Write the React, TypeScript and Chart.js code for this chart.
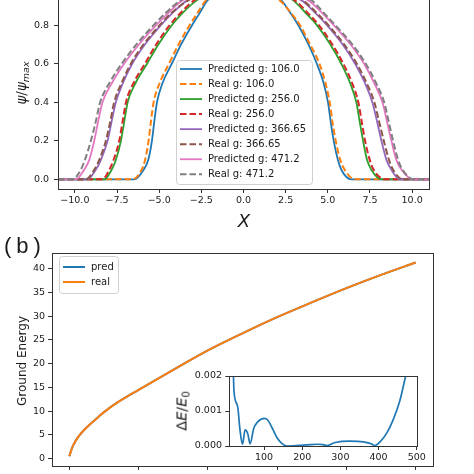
import React, { useEffect, useRef } from 'react';
import { Chart, registerables } from 'chart.js';

Chart.register(...registerables);

// ---------- Panel (a): wave-function profiles ----------
const LEVELS = [0, 0.05, 0.1, 0.2, 0.3, 0.4, 0.5, 0.6, 0.7, 0.8, 0.86, 0.93, 0.97];
const PEAK = { x: 0, y: 1 };
const X_EDGES = [-11, 11];

const PRED_106_L = [-6.48, -5.92, -5.65, -5.43, -5.29, -5.13, -4.8, -4.25, -3.7, -3.05, -2.62, -2.12, -1.35];
const PRED_106_R = [6.4, 5.8, 5.6, 5.35, 5.17, 5.01, 4.75, 4.35, 3.85, 3.25, 2.8, 2.24, 1.35];
const REAL_106_L = [-6.58, -6.04, -5.84, -5.63, -5.49, -5.33, -4.97, -4.42, -3.85, -3.2, -2.75, -2.22, -1.4];
const REAL_106_R = [6.6, 6.0, 5.74, 5.47, 5.27, 5.11, 4.86, 4.5, 3.95, 3.35, 2.85, 2.14, 1.4];
const PRED_256_L = [-8.26, -7.82, -7.57, -7.27, -7.07, -6.87, -6.4, -5.72, -5.05, -4.25, -3.65, -2.75, -1.8];
const PRED_256_R = [8.18, 7.58, 7.33, 7.09, 6.89, 6.69, 6.32, 5.8, 5.15, 4.35, 3.72, 2.93, 1.8];
const REAL_256_L = [-8.36, -7.96, -7.71, -7.37, -7.17, -6.97, -6.52, -5.85, -5.18, -4.38, -3.78, -2.91, -1.85];
const REAL_256_R = [8.38, 7.72, 7.49, 7.21, 7.01, 6.81, 6.44, 5.92, 5.27, 4.47, 3.85, 3.03, 1.85];
const PRED_366_L = [-9.25, -8.76, -8.46, -8.06, -7.82, -7.57, -7.15, -6.6, -5.85, -4.9, -4.25, -3.31, -2.05];
const PRED_366_R = [9.27, 8.77, 8.48, 8.18, 7.92, 7.64, 7.2, 6.62, 5.88, 4.95, 4.3, 3.43, 2.05];
const REAL_366_L = [-9.35, -8.85, -8.56, -8.16, -7.9, -7.67, -7.23, -6.68, -5.93, -4.97, -4.32, -3.25, -2.1];
const REAL_366_R = [9.47, 8.87, 8.63, 8.32, 8.04, 7.76, 7.3, 6.72, 5.97, 5.03, 4.38, 3.5, 2.1];
const PRED_471_L = [-9.94, -9.45, -9.15, -8.85, -8.62, -8.36, -7.8, -7.08, -6.2, -5.18, -4.5, -3.61, -2.2];
const PRED_471_R = [10.06, 9.37, 9.07, 8.77, 8.51, 8.24, 7.75, 7.15, 6.35, 5.35, 4.7, 3.82, 2.2];
const REAL_471_L = [-10.14, -9.65, -9.41, -9.05, -8.76, -8.5, -7.95, -7.22, -6.35, -5.33, -4.65, -3.71, -2.25];
const REAL_471_R = [10.1, 9.43, 9.17, 8.87, 8.61, 8.34, 7.86, 7.25, 6.45, 5.45, 4.8, 4.02, 2.25];

const SERIES_LABELS = [
  'Predicted g: 106.0', 'Real g: 106.0',
  'Predicted g: 256.0', 'Real g: 256.0',
  'Predicted g: 366.65', 'Real g: 366.65',
  'Predicted g: 471.2', 'Real g: 471.2',
];
const SERIES_LEFT = [PRED_106_L, REAL_106_L, PRED_256_L, REAL_256_L, PRED_366_L, REAL_366_L, PRED_471_L, REAL_471_L];
const SERIES_RIGHT = [PRED_106_R, REAL_106_R, PRED_256_R, REAL_256_R, PRED_366_R, REAL_366_R, PRED_471_R, REAL_471_R];
const SERIES_COLORS = ['#1f77b4', '#ff7f0e', '#2ca02c', '#d62728', '#9467bd', '#8c564b', '#e377c2', '#7f7f7f'];

const TOP_X_TICKS = [-10, -7.5, -5, -2.5, 0, 2.5, 5, 7.5, 10];
const TOP_Y_TICKS = [0, 0.2, 0.4, 0.6, 0.8, 1.0];

// ---------- Panel (b): ground energy ----------
const G_VALUES = [0, 4, 9, 14, 23, 28, 42, 50, 69, 100, 150, 200, 250, 300, 350, 400, 450, 500];
const REAL_E = [0.5, 2.3, 3.7, 4.8, 6.3, 7.0, 8.8, 9.8, 11.8, 14.5, 18.7, 22.8, 26.4, 29.8, 32.9, 35.9, 38.7, 41.3];
const PRED_E = [0.5, 2.3, 3.7, 4.8, 6.3, 7.0, 8.8, 9.8, 11.8, 14.5, 18.7, 22.8, 26.4, 29.8, 32.9, 35.9, 38.7, 41.3];
const B_X_TICKS = [0, 100, 200, 300, 400, 500];
const B_Y_TICKS = [0, 5, 10, 15, 20, 25, 30, 35, 40];

// ---------- Inset: relative error ----------
const DG = [9, 15, 19.6, 21.4, 31, 37, 43.5, 50.4, 57.4, 63.5, 73, 83.4, 101, 109, 122, 135, 148, 161, 199, 220, 240, 255, 264, 286, 325, 360, 382, 389, 404, 421, 438, 456, 469, 480];
const DE = [0.007, 0.004, 0.0021, 0.00155, 0.00112, 0.00046, 0.00005, 0.00046, 0.00035, 0.00006, 0.0005, 0.00069, 0.00079, 0.00075, 0.0005, 0.00022, 0.00006, 0.0, 0.00002, 0.00004, 0.00005, 0.00004, 0.00001, 0.0001, 0.00014, 0.00012, 0.00006, 0.00001, 0.00012, 0.00036, 0.00074, 0.0013, 0.0019, 0.0024];
const INSET_X_TICKS = [100, 200, 300, 400, 500];
const INSET_Y_TICKS = [0, 0.001, 0.002];

const FONT = 'DejaVu Sans';
const TXT = '#1a1a1a';
const AX = '#333333';

function profile(left: number[], right: number[]) {
  const pts: { x: number; y: number }[] = [{ x: X_EDGES[0], y: 0 }];
  left.forEach((x, i) => pts.push({ x, y: LEVELS[i] }));
  pts.push({ x: PEAK.x, y: PEAK.y });
  for (let i = right.length - 1; i >= 0; i--) pts.push({ x: right[i], y: LEVELS[i] });
  pts.push({ x: X_EDGES[1], y: 0 });
  return pts;
}

const framePlugin = {
  id: 'frame',
  beforeDraw(chart: any, _a: any, opts: any) {
    if (opts && opts.fill) {
      const { left, top, right, bottom } = chart.chartArea;
      chart.ctx.save();
      chart.ctx.fillStyle = '#ffffff';
      chart.ctx.fillRect(left, top, right - left, bottom - top);
      chart.ctx.restore();
    }
  },
  afterDraw(chart: any) {
    const { left, top, right, bottom } = chart.chartArea;
    const ctx = chart.ctx;
    ctx.save();
    ctx.strokeStyle = AX;
    ctx.lineWidth = 1;
    ctx.setLineDash([]);
    const l = Math.round(left) + 0.5, t = Math.round(top) + 0.5;
    ctx.strokeRect(l, t, Math.round(right) - Math.round(left), Math.round(bottom) - Math.round(top));
    ctx.restore();
  },
};

const boxLegendPlugin = {
  id: 'boxLegend',
  afterDraw(chart: any, _a: any, opts: any) {
    if (!opts || !opts.box) return;
    const ctx = chart.ctx;
    const [bx, by, bw, bh] = opts.box;
    ctx.save();
    const r = 3;
    ctx.beginPath();
    ctx.moveTo(bx + r, by);
    ctx.lineTo(bx + bw - r, by);
    ctx.quadraticCurveTo(bx + bw, by, bx + bw, by + r);
    ctx.lineTo(bx + bw, by + bh - r);
    ctx.quadraticCurveTo(bx + bw, by + bh, bx + bw - r, by + bh);
    ctx.lineTo(bx + r, by + bh);
    ctx.quadraticCurveTo(bx, by + bh, bx, by + bh - r);
    ctx.lineTo(bx, by + r);
    ctx.quadraticCurveTo(bx, by, bx + r, by);
    ctx.closePath();
    ctx.fillStyle = 'rgba(255,255,255,0.85)';
    ctx.fill();
    ctx.strokeStyle = '#d0d0d0';
    ctx.lineWidth = 1;
    ctx.stroke();
    ctx.font = `${opts.fontSize}px "${FONT}"`;
    ctx.textBaseline = 'middle';
    ctx.textAlign = 'left';
    chart.data.datasets.forEach((ds: any, i: number) => {
      const y = opts.y0 + i * opts.dy;
      ctx.beginPath();
      ctx.strokeStyle = ds.borderColor;
      ctx.lineWidth = ds.borderWidth;
      ctx.setLineDash(ds.borderDash || []);
      ctx.moveTo(opts.lx0, y);
      ctx.lineTo(opts.lx1, y);
      ctx.stroke();
      ctx.setLineDash([]);
      ctx.fillStyle = TXT;
      ctx.fillText(ds.label, opts.tx, y + 0.5);
    });
    ctx.restore();
  },
};

function axisCommon(ticksArr: number[], fmt: (v: number) => string, padding: number) {
  return {
    type: 'linear' as const,
    afterBuildTicks: (s: any) => {
      s.ticks = ticksArr.map((v) => ({ value: v }));
    },
    ticks: {
      callback: (v: any) => fmt(Number(v)),
      font: { family: FONT, size: 9.5 },
      color: TXT,
      padding,
      maxRotation: 0,
      autoSkip: false,
    },
    grid: { display: true, drawOnChartArea: false, drawTicks: true, tickLength: 4, color: AX, lineWidth: 1 },
    border: { display: false },
  };
}

const minusFmt = (d: number) => (v: number) => {
  const s = Math.abs(v).toFixed(d);
  return v < 0 ? '\u2212' + s : s;
};

export default function App() {
  const topRef = useRef<HTMLCanvasElement>(null);
  const botRef = useRef<HTMLCanvasElement>(null);
  const insetRef = useRef<HTMLCanvasElement>(null);

  useEffect(() => {
    const charts: Chart[] = [];

    // Panel (a)
    const topDatasets = SERIES_LABELS.map((label, i) => ({
      label,
      data: profile(SERIES_LEFT[i], SERIES_RIGHT[i]),
      borderColor: SERIES_COLORS[i],
      backgroundColor: SERIES_COLORS[i],
      borderWidth: i % 2 === 1 ? 2 : 1.8,
      borderDash: i % 2 === 1 ? [6.5, 3] : [],
      pointRadius: 0,
      fill: false,
      cubicInterpolationMode: 'monotone' as const,
      order: SERIES_LABELS.length - i,
      clip: 0,
    }));
    charts.push(
      new Chart(topRef.current!, {
        type: 'line',
        data: { datasets: topDatasets as any },
        options: {
          responsive: false,
          animation: false,
          layout: { padding: { left: 0, right: 45, top: 17, bottom: 0 } },
          plugins: {
            legend: { display: false },
            tooltip: { enabled: false },
            frame: {},
            boxLegend: { box: [176.5, 100.5, 136, 124], y0: 109, dy: 15.04, lx0: 180, lx1: 202, tx: 208, fontSize: 10 },
          } as any,
          scales: {
            x: {
              ...axisCommon(TOP_X_TICKS, minusFmt(1), 2.3),
              min: -11,
              max: 11,
              afterFit: (s: any) => { s.height = 41; },
            },
            y: {
              ...axisCommon(TOP_Y_TICKS, minusFmt(1), 5),
              min: -0.05,
              max: 1.05,
              afterFit: (s: any) => { s.width = 58; },
            },
          } as any,
        },
        plugins: [framePlugin, boxLegendPlugin],
      })
    );

    // Panel (b)
    const toPts = (xs: number[], ys: number[]) => xs.map((x, i) => ({ x, y: ys[i] }));
    charts.push(
      new Chart(botRef.current!, {
        type: 'line',
        data: {
          datasets: [
            {
              label: 'pred',
              data: toPts(G_VALUES, PRED_E),
              borderColor: '#1f77b4',
              borderWidth: 2,
              pointRadius: 0,
              cubicInterpolationMode: 'monotone',
              order: 2,
            },
            {
              label: 'real',
              data: toPts(G_VALUES, REAL_E),
              borderColor: '#ff7f0e',
              borderWidth: 2,
              pointRadius: 0,
              cubicInterpolationMode: 'monotone',
              order: 1,
            },
          ] as any,
        },
        options: {
          responsive: false,
          animation: false,
          layout: { padding: { left: 0, right: 41, top: 21, bottom: 0 } },
          plugins: {
            legend: { display: false },
            tooltip: { enabled: false },
            frame: {},
            boxLegend: { box: [59.5, 24.5, 59, 37], y0: 35, dy: 15, lx0: 63, lx1: 85, tx: 91, fontSize: 10 },
          } as any,
          scales: {
            x: {
              ...axisCommon(B_X_TICKS, minusFmt(0), 10),
              min: -25,
              max: 525,
              afterFit: (s: any) => { s.height = 26; },
            },
            y: {
              ...axisCommon(B_Y_TICKS, minusFmt(0), 3),
              min: -1.54,
              max: 43.3,
              afterFit: (s: any) => { s.width = 52; },
            },
          } as any,
        },
        plugins: [framePlugin, boxLegendPlugin],
      })
    );

    // Inset
    charts.push(
      new Chart(insetRef.current!, {
        type: 'line',
        data: {
          datasets: [
            {
              label: 'dE',
              data: toPts(DG, DE),
              borderColor: '#1f77b4',
              borderWidth: 1.7,
              pointRadius: 0,
              cubicInterpolationMode: 'monotone',
              clip: 0,
            },
          ] as any,
        },
        options: {
          responsive: false,
          animation: false,
          layout: { padding: { left: 0, right: 33.3, top: 16, bottom: 0 } },
          plugins: {
            legend: { display: false },
            tooltip: { enabled: false },
            frame: { fill: true },
          } as any,
          scales: {
            x: {
              ...axisCommon(INSET_X_TICKS, minusFmt(0), 2.3),
              min: 9,
              max: 500,
              afterFit: (s: any) => { s.height = 28; },
            },
            y: {
              ...axisCommon(INSET_Y_TICKS, minusFmt(3), 3.3),
              min: 0,
              max: 0.002,
              afterFit: (s: any) => { s.width = 79.3; },
            },
          } as any,
        },
        plugins: [framePlugin],
      })
    );

    return () => charts.forEach((c) => c.destroy());
  }, []);

  const rot = (x: number, y: number): React.CSSProperties => ({
    position: 'absolute',
    left: x,
    top: y,
    transform: 'translate(-50%, -50%) rotate(-90deg)',
    whiteSpace: 'nowrap',
    color: TXT,
    fontFamily: FONT,
    lineHeight: 1,
  });

  return (
    <div style={{ position: 'absolute', left: 0, top: 0, width: 474, height: 474, overflow: 'hidden', background: '#fff' }}>
      <canvas ref={topRef} width={474} height={270} style={{ position: 'absolute', left: 0, top: -40, width: 474, height: 270 }} />
      <canvas ref={botRef} width={474} height={260} style={{ position: 'absolute', left: 0, top: 232, width: 474, height: 260 }} />
      <canvas ref={insetRef} width={300} height={114} style={{ position: 'absolute', left: 150, top: 360, width: 300, height: 114 }} />

      <div style={{ ...rot(23, 83), fontSize: 13.5 }}>
        <i>ψ</i>/<i>ψ</i>
        <sub style={{ fontSize: 9.5, fontStyle: 'italic', verticalAlign: '-3px' }}>max</sub>
      </div>
      <div
        style={{
          position: 'absolute', left: 244, top: 221, transform: 'translate(-50%, -50%)',
          fontFamily: FONT, fontStyle: 'italic', fontSize: 18, color: TXT, lineHeight: 1,
        }}
      >
        X
      </div>
      <div
        style={{
          position: 'absolute', left: 4, top: 235, fontFamily: 'Liberation Sans', fontSize: 22,
          color: TXT, lineHeight: 1, letterSpacing: '5px', whiteSpace: 'nowrap',
        }}
      >
        (b)
      </div>
      <div style={{ ...rot(22, 361), fontSize: 12 }}>Ground Energy</div>
      <div style={{ ...rot(183, 411), fontSize: 14.5 }}>
        Δ<i>E</i>/<i>E</i>
        <sub style={{ fontSize: 10, verticalAlign: '-3px' }}>0</sub>
      </div>
    </div>
  );
}
